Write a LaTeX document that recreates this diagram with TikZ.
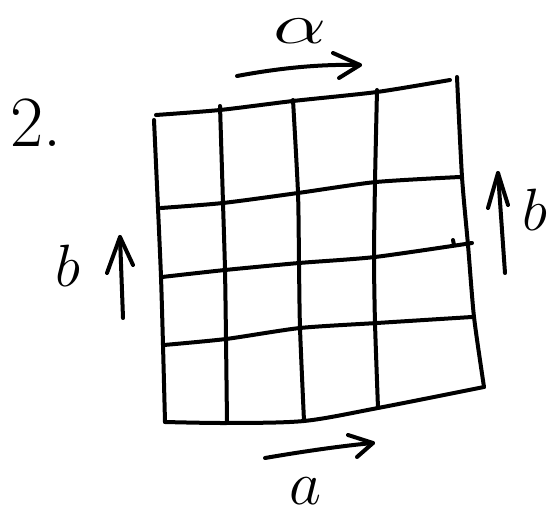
\documentclass[tikz,border=0pt]{standalone}
\begin{document}
\begin{tikzpicture}[x=1pt,y=-1pt,
  ink/.style={line width=4pt,line cap=round,line join=round,black},
  lbl/.style={inner sep=0pt,font=\Huge}]
\useasboundingbox (0,0) rectangle (550,513);
% horizontal lines
\draw[ink] plot[smooth,tension=0.4] coordinates {(156,115) (220,110) (293,101) (377,92) (450,80)};
\draw[ink] plot[smooth,tension=0.4] coordinates {(161,208) (223,203) (298,193) (376,182) (460,177)};
\draw[ink] plot[smooth,tension=0.4] coordinates {(162,277) (225,270) (299,263) (375,257) (472,243)};
\draw[ink] plot[smooth,tension=0.4] coordinates {(164,345) (226,339) (300,328) (377,323) (472,317)};
\draw[ink] plot[smooth,tension=0.5] coordinates {(165,422) (227,423) (304,421) (378,408) (484,387)};
% vertical lines
\draw[ink] plot[smooth,tension=0.4] coordinates {(154,120) (158,208) (161,277) (163,345) (165,422)};
\draw[ink] plot[smooth,tension=0.4] coordinates {(220,106) (223,203) (225,270) (226,339) (227,423)};
\draw[ink] plot[smooth,tension=0.4] coordinates {(293,100) (298,193) (299,263) (300,328) (304,421)};
\draw[ink] plot[smooth,tension=0.4] coordinates {(377,90) (375,182) (374,257) (375,323) (378,408)};
\draw[ink] plot[smooth,tension=0.4] coordinates {(457,77) (462,177) (468,245) (474,317) (484,387)};
\draw[ink] (453,240) -- (454,245);
% arrows
\coordinate (ta) at (237,76); \coordinate (tb) at (360,65);
\draw[ink] (ta) .. controls (280,68) and (320,64) .. (tb);
\draw[ink] (333,53) -- (tb) -- (339,78);
\coordinate (ba) at (265,458); \coordinate (bb) at (373,443);
\draw[ink] (ba) .. controls (300,452) and (340,446) .. (bb);
\draw[ink] (348,435) -- (bb) -- (357,457);
\coordinate (ra) at (505,273); \coordinate (rb) at (498,173);
\draw[ink] (ra) -- (rb);
\draw[ink] (488,208) -- (rb) -- (508,205);
\coordinate (la) at (123,318); \coordinate (lb) at (120,237);
\draw[ink] (la) -- (lb);
\draw[ink] (107,273) -- (lb) -- (133,265);
% labels
\node[lbl,xscale=3.4,yscale=2.3] (alpha) at (300,31) {$\alpha$};
\node[lbl,scale=2.4] (bR) at (535,210) {$b$};
\node[lbl,scale=2.4] (bL) at (68,266) {$b$};
\node[lbl,scale=2.5] (aB) at (305,491) {$a$};
\node[lbl,scale=2.9] (two) at (36,123) {2.};
\end{tikzpicture}
\end{document}
